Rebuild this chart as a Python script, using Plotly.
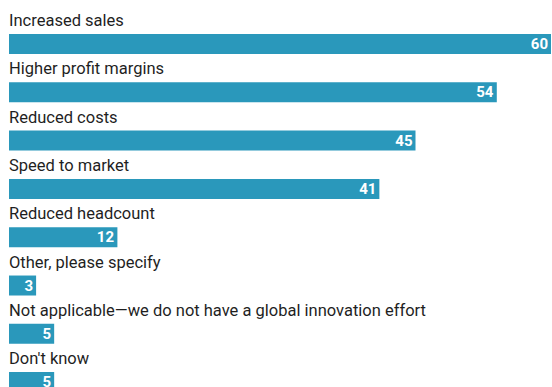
import plotly.graph_objects as go

categories = [
    "Increased sales",
    "Higher profit margins",
    "Reduced costs",
    "Speed to market",
    "Reduced headcount",
    "Other, please specify",
    "Not applicable\u2014we do not have a global innovation effort",
    "Don't know",
]
values = [60, 54, 45, 41, 12, 3, 5, 5]

BAR_COLOR = "#2a98bb"
TEXT_COLOR = "#1f1f1f"
FONT = "Roboto, Arial, sans-serif"

rows = list(range(len(categories)))

fig = go.Figure(
    go.Bar(
        x=values,
        y=rows,
        orientation="h",
        width=0.414,
        marker=dict(color=BAR_COLOR, line=dict(width=0)),
        text=[str(v) for v in values],
        textposition="inside",
        insidetextanchor="end",
        textangle=0,
        constraintext="none",
        textfont=dict(family=FONT, size=15, color="white", weight="bold"),
        hoverinfo="skip",
    )
)

# category labels sit just above each bar
for i, name in zip(rows, categories):
    fig.add_annotation(
        x=0, y=i, xref="x", yref="y",
        text=name, showarrow=False,
        xanchor="left", yanchor="bottom", yshift=12, xshift=-2,
        font=dict(family=FONT, size=16.5, color=TEXT_COLOR),
    )

fig.update_layout(
    width=552, height=387,
    margin=dict(l=9, r=1, t=0, b=0),
    paper_bgcolor="white", plot_bgcolor="white",
    showlegend=False,
    xaxis=dict(range=[0, 60], visible=False, fixedrange=True),
    yaxis=dict(range=[7.101, -0.911], visible=False, fixedrange=True),
    uniformtext=dict(mode=False),
)

fig.write_html("out.html", config={"displayModeBar": False})
